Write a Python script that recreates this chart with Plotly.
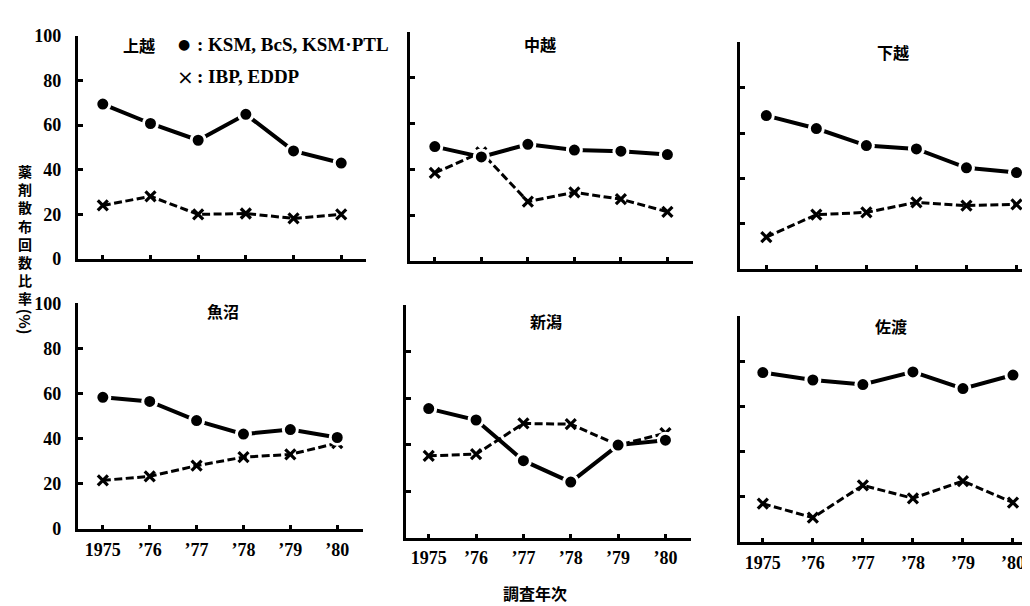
import plotly.graph_objects as go

W, H = 1030, 606

years = [1975, 1976, 1977, 1978, 1979, 1980]
year_labels = ["1975", "’76", "’77", "’78", "’79", "’80"]
y_ticks = [0, 20, 40, 60, 80, 100]
y_tick_labels = ["0", "20", "40", "60", "80", "100"]

regions = ["上越", "中越", "下越", "魚沼", "新潟", "佐渡"]

ksm_joetsu = [69.4, 60.7, 53.2, 64.8, 48.4, 43.0]
ibp_joetsu = [24.0, 28.1, 20.0, 20.4, 18.2, 20.0]
ksm_chuetsu = [50.0, 45.5, 51.0, 48.5, 48.0, 46.5]
ibp_chuetsu = [38.5, 47.5, 26.0, 30.0, 27.0, 21.5]
ksm_kaetsu = [67.7, 62.0, 54.5, 53.0, 44.7, 42.6]
ibp_kaetsu = [14.2, 24.1, 25.1, 29.5, 28.1, 28.6]
ksm_uonuma = [58.3, 56.5, 48.0, 42.0, 44.0, 40.5]
ibp_uonuma = [21.5, 23.3, 28.0, 31.8, 33.0, 38.0]
ksm_niigata = [55.5, 50.6, 33.1, 23.9, 39.8, 41.9]
ibp_niigata = [35.2, 35.9, 49.1, 48.8, 39.8, 44.9]
ksm_sado = [75.0, 71.7, 69.7, 75.3, 67.9, 73.9]
ibp_sado = [16.9, 10.7, 25.0, 19.3, 26.9, 17.4]

ksm_series = [ksm_joetsu, ksm_chuetsu, ksm_kaetsu, ksm_uonuma, ksm_niigata, ksm_sado]
ibp_series = [ibp_joetsu, ibp_chuetsu, ibp_kaetsu, ibp_uonuma, ibp_niigata, ibp_sado]

# panel layout in pixels: (left, right, bottom(y=0), top(y=100)), x range
panels = [
    (70, 358, 249.3, 18.3, [1974.48, 1980.52]),
    (401.7, 685, 251.3, 14.7, [1974.46, 1980.55]),
    (732.3, 1030, 260, 25, [1974.48, 1980.43]),
    (70, 355, 528.3, 295, [1974.47, 1980.55]),
    (398, 683, 537.4, 296.9, [1974.52, 1980.54]),
    (732.3, 1030, 541.7, 308.3, [1974.55, 1980.5]),
]
# title positions (px)
title_pos = [(131, 28), (532, 27), (885, 35), (215, 303), (538, 313), (883, 318)]

def fx(p):
    return p / W

def fy(p):
    return 1 - p / H

fig = go.Figure()
layout = dict(
    width=W, height=H,
    margin=dict(l=0, r=0, t=0, b=0),
    paper_bgcolor="white", plot_bgcolor="white",
    showlegend=False,
)

serif = "Liberation Serif"
cjk = "Noto Sans CJK JP"

for i in range(6):
    n = "" if i == 0 else str(i + 1)
    left, right, bot, top, xr = panels[i]
    xa = dict(
        domain=[fx(left), fx(right)], range=xr, anchor="y" + n,
        showline=True, linecolor="black", linewidth=3.3,
        showgrid=False, zeroline=False,
        tickmode="array", tickvals=years, ticktext=year_labels,
        ticks="inside", ticklen=4, tickwidth=2.5, tickcolor="black",
        showticklabels=(i >= 3),
        tickfont=dict(family=serif, size=18, color="black", weight="bold"),
        ticklabelstandoff=2,
    )
    ya = dict(
        domain=[fy(bot), fy(top)], range=[0, 100], anchor="x" + n,
        showline=True, linecolor="black", linewidth=3.3,
        showgrid=False, zeroline=False,
        tickmode="array", tickvals=y_ticks, ticktext=y_tick_labels,
        ticks="inside", ticklen=5, tickwidth=2.5, tickcolor="black",
        showticklabels=(i in (0, 3)),
        tickfont=dict(family=serif, size=18, color="black", weight="bold"),
        ticklabelstandoff=10,
    )
    layout["xaxis" + n] = xa
    layout["yaxis" + n] = ya

    fig.add_trace(go.Scatter(
        x=years, y=ibp_series[i], mode="lines+markers",
        line=dict(color="black", width=3, dash="8px,3.5px"),
        marker=dict(symbol="x-thin", size=10, line=dict(color="black", width=3.2)),
        xaxis="x" + n, yaxis="y" + n, cliponaxis=False,
    ))
    fig.add_trace(go.Scatter(
        x=years, y=ksm_series[i], mode="lines+markers",
        line=dict(color="black", width=4),
        marker=dict(symbol="circle", size=14, color="black",
                    line=dict(color="white", width=3)),
        xaxis="x" + n, yaxis="y" + n, cliponaxis=False,
    ))

annotations = []
for i in range(6):
    tx, ty = title_pos[i]
    annotations.append(dict(
        x=fx(tx), y=fy(ty), xref="paper", yref="paper",
        text="<b>" + regions[i] + "</b>", showarrow=False,
        xanchor="center", yanchor="middle",
        font=dict(family=cjk, size=16, color="black"),
    ))

# legend texts
annotations.append(dict(x=fx(176), y=fy(27), xref="paper", yref="paper",
                        text="●", showarrow=False, xanchor="center", yanchor="middle",
                        font=dict(family="DejaVu Sans", size=14, color="black")))
annotations.append(dict(x=fx(187), y=fy(27), xref="paper", yref="paper",
                        text="<b>: KSM, BcS, KSM·PTL</b>", showarrow=False,
                        xanchor="left", yanchor="middle",
                        font=dict(family=serif, size=19, color="black")))
annotations.append(dict(x=fx(177), y=fy(61), xref="paper", yref="paper",
                        text="×", showarrow=False, xanchor="center", yanchor="middle",
                        font=dict(family="DejaVu Sans", size=20, color="black")))
annotations.append(dict(x=fx(187), y=fy(61), xref="paper", yref="paper",
                        text="<b>: IBP, EDDP</b>", showarrow=False,
                        xanchor="left", yanchor="middle",
                        font=dict(family=serif, size=19, color="black")))

# y axis title (vertical, one character per line)
ytitle_chars = ["薬", "剤", "散", "布", "回", "数", "比", "率"]
annotations.append(dict(
    x=fx(17), y=fy(146), xref="paper", yref="paper",
    text="<b>" + "<br>".join(ytitle_chars) + "</b>", showarrow=False,
    xanchor="center", yanchor="top",
    font=dict(family=cjk, size=14, color="black"),
))
annotations.append(dict(
    x=fx(17), y=fy(314), xref="paper", yref="paper",
    text="<b>(%)</b>", showarrow=False, textangle=90,
    xanchor="center", yanchor="middle",
    font=dict(family=cjk, size=15, color="black"),
))

# x axis title
annotations.append(dict(
    x=fx(527), y=fy(595), xref="paper", yref="paper",
    text="<b>調査年次</b>", showarrow=False,
    xanchor="center", yanchor="middle",
    font=dict(family=cjk, size=16, color="black"),
))

layout["annotations"] = annotations
fig.update_layout(**layout)
fig.write_html("out.html")
